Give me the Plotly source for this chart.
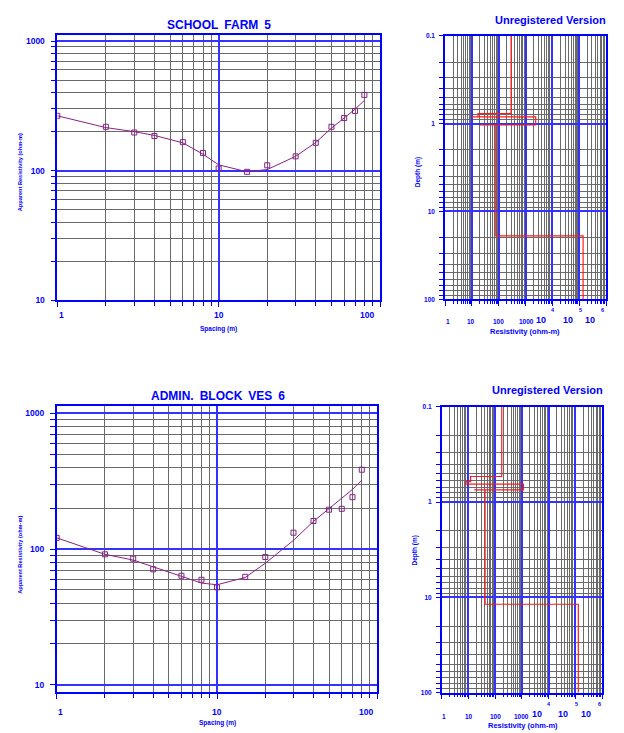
import math
import plotly.graph_objects as go

# ---------------- data ----------------
spacing = [1, 2, 3, 4, 6, 8, 10, 15, 20, 30, 40, 50, 60, 70, 80]
farm_obs = [265, 218, 197, 185, 166, 137, 104, 98, 110, 129, 164, 218, 255, 289, 384]
farm_calc = [265, 215, 200, 187, 164, 134, 111, 98, 102, 129, 165, 213, 255, 298, 348]
admin_obs = [121, 91.5, 85, 71, 63.6, 59.4, 52.2, 62.5, 87.4, 132, 161, 195, 198, 241, 384]
admin_calc = [121, 91.5, 83, 74.3, 62.8, 56.2, 54.6, 61.8, 78.6, 116, 160, 199, 240, 275, 322]

farm_layer_res = [290, 17, 10, 2400, 20, 78, 140000]
farm_layer_bottom = [0.77, 0.84, 0.84, 1.04, 1.04, 19]
admin_layer_res = [177, 12, 8, 1140, 16.6, 42, 130000]
admin_layer_bottom = [0.54, 0.61, 0.65, 0.745, 0.745, 11.8]

sounding_titles = ["SCHOOL FARM 5", "ADMIN. BLOCK VES 6"]
left_ytick_vals = [10, 100, 1000]
left_xtick_vals = [1, 10, 100]
right_ytick_vals = [0.1, 1, 10, 100]
right_xtick_labels = ["1", "10", "100", "1000"]

BLUE = "#0000ff"
MAJOR = "#3333ff"
GRID = "#6a6a6a"
PURPLE = "#8a1f8a"
RED = "#ff1a1a"
W, H = 624, 733
FONT = "Liberation Sans, Arial, sans-serif"


def px(x):
    return x / W


def py(y):
    return 1 - y / H


def minor_vals(lo_exp, hi_exp):
    return [m * 10 ** e for e in range(lo_exp, hi_exp) for m in range(2, 10)]


def step_path(res, bottoms, top, base):
    xs, ys = [res[0]], [top]
    for i, b in enumerate(bottoms):
        xs += [res[i], res[i + 1]]
        ys += [b, b]
    xs.append(res[-1])
    ys.append(base)
    return xs, ys


fig = go.Figure()

# ---------- left (sounding curve) panels ----------
left_domains = [
    ([px(57.3), px(380)], [py(300), py(31.7)], [1.0, math.log10(1107)]),
    ([px(56.7), px(377.3)], [py(696.7), py(406.7)], [math.log10(8.84), math.log10(1137)]),
]
obs_sets = [farm_obs, admin_obs]
calc_sets = [farm_calc, admin_calc]
for k in range(2):
    xa = "x" if k == 0 else "x3"
    ya = "y" if k == 0 else "y3"
    fig.add_trace(go.Scatter(x=spacing, y=calc_sets[k], mode="lines",
                             line=dict(color=PURPLE, width=1), xaxis=xa, yaxis=ya,
                             showlegend=False, hoverinfo="skip"))
    fig.add_trace(go.Scatter(x=spacing, y=obs_sets[k], mode="markers",
                             marker=dict(symbol="square-open", size=5, color=PURPLE,
                                         line=dict(width=1, color=PURPLE)),
                             xaxis=xa, yaxis=ya, showlegend=False))

# ---------- right (layered model) panels ----------
models = [(farm_layer_res, farm_layer_bottom), (admin_layer_res, admin_layer_bottom)]
for k in range(2):
    xs, ys = step_path(models[k][0], models[k][1], 0.1, 100)
    xa = "x2" if k == 0 else "x4"
    ya = "y2" if k == 0 else "y4"
    fig.add_trace(go.Scatter(x=xs, y=ys, mode="lines", line=dict(color=RED, width=1.2),
                             xaxis=xa, yaxis=ya, showlegend=False))


def axis_common():
    return dict(type="log", showline=True, linecolor=BLUE, linewidth=1.5, mirror=True,
                ticks="outside", tickcolor=BLUE, showgrid=True, gridcolor=MAJOR, gridwidth=1.5,
                zeroline=False)


tickfont_left = dict(family=FONT, size=8.5, color=BLUE, weight="bold")
tickfont_right = dict(family=FONT, size=6.5, color=BLUE, weight="bold")

layout = dict(width=W, height=H, margin=dict(l=0, r=0, t=0, b=0),
              paper_bgcolor="white", plot_bgcolor="white", showlegend=False)

# left x axes
for name, dom, anchor in [("xaxis", left_domains[0][0], "y"), ("xaxis3", left_domains[1][0], "y3")]:
    a = axis_common()
    a.update(domain=dom, anchor=anchor, range=[0, 2], tickvals=left_xtick_vals,
             showticklabels=False, ticklen=5,
             minor=dict(tickvals=minor_vals(0, 2), ticks="outside", ticklen=4, tickcolor=BLUE,
                        showgrid=True, gridcolor=GRID, gridwidth=1))
    layout[name] = a
# left y axes
for name, k, anchor in [("yaxis", 0, "x"), ("yaxis3", 1, "x3")]:
    a = axis_common()
    a.update(domain=left_domains[k][1], anchor=anchor, range=left_domains[k][2],
             tickvals=left_ytick_vals, ticktext=[str(v) for v in left_ytick_vals],
             tickfont=tickfont_left, ticklen=5, ticklabelstandoff=4,
             minor=dict(tickvals=minor_vals(1, 3), ticks="outside", ticklen=5, tickcolor=BLUE,
                        showgrid=True, gridcolor=GRID, gridwidth=1))
    layout[name] = a

right_domains = [
    ([px(445), px(606)], [py(299), py(32)]),
    ([px(441.7), px(602)], [py(697.3), py(407.7)]),
]
for name, k, anchor in [("xaxis2", 0, "y2"), ("xaxis4", 1, "y4")]:
    a = axis_common()
    a.update(domain=right_domains[k][0], anchor=anchor, range=[0, 6],
             tickvals=[10 ** e for e in range(0, 7)], showticklabels=False, ticklen=5,
             minor=dict(tickvals=minor_vals(0, 6), ticks="outside", ticklen=2.5, tickcolor=BLUE,
                        showgrid=True, gridcolor=GRID, gridwidth=1))
    layout[name] = a
for name, k, anchor in [("yaxis2", 0, "x2"), ("yaxis4", 1, "x4")]:
    a = axis_common()
    a.update(domain=right_domains[k][1], anchor=anchor, range=[2, -1],
             tickvals=right_ytick_vals, ticktext=["0.1", "1", "10", "100"],
             tickfont=tickfont_right, ticklen=4, ticklabelstandoff=3,
             minor=dict(tickvals=minor_vals(-1, 2), ticks="outside", ticklen=4, tickcolor=BLUE,
                        showgrid=True, gridcolor=GRID, gridwidth=1))
    layout[name] = a

fig.update_layout(**layout)

ann = []


def text(x, y, s, size, bold=True, angle=0, xanchor="center", yanchor="middle",
         xref="paper", yref="paper", xshift=0):
    ann.append(dict(x=x, y=y, text=s, showarrow=False, textangle=angle, xref=xref, yref=yref,
                    xanchor=xanchor, yanchor=yanchor, xshift=xshift,
                    font=dict(family=FONT, size=size, color=BLUE,
                              weight="bold" if bold else "normal")))


def wide(s):
    return s.replace(" ", "\u2002")


# titles
text(px(218.7), py(21.7), wide(sounding_titles[0]), 12)
text(px(218), py(396.7), wide(sounding_titles[1]), 12)
text(px(550.5), py(15.7), "Unregistered Version", 11)
text(px(547), py(390.7), "Unregistered Version", 11)

# left axis titles
for yy in (170, 557.3):
    text(px(20.3), py(yy), "Apparent Resistivity (ohm-m)", 5.6, bold=True, angle=-90)
text(px(219), py(329), "Spacing (m)", 6.5)
text(px(217.7), py(728.3), "Spacing (m)", 6.5)

# left x tick labels
for xr, yy, shifts in [("x", 315, [4, 0, -13]), ("x3", 716.7, [4, 0, -11])]:
    for v, sh in zip(left_xtick_vals, shifts):
        text(math.log10(v), py(yy), str(v), 8.5, xref=xr, xshift=sh)

# right axis titles
text(px(418.3), py(170), "Depth (m)", 6.5, angle=-90)
text(px(415), py(553.3), "Depth (m)", 6.5, angle=-90)
text(px(524.7), py(331.7), "Resistivity (ohm-m)", 7.5)
text(px(522.5), py(730), "Resistivity (ohm-m)", 7.5)

# right x tick labels
right_sets = [
    dict(small_x=[447.7, 471, 498, 526], small_y=321.7, base_x=[541, 568.3, 590], base_y=320,
         sup_x=[553.3, 580.3, 602.7], sup_y=310),
    dict(small_x=[444.3, 469, 495.3, 521], small_y=721.7, base_x=[536.7, 563.3, 586], base_y=719.3,
         sup_x=[549.3, 576, 599.3], sup_y=708.3),
]
for rs in right_sets:
    for xx, lab in zip(rs["small_x"], right_xtick_labels):
        text(px(xx), py(rs["small_y"]), lab, 6.5)
    for xx in rs["base_x"]:
        text(px(xx), py(rs["base_y"]), "10", 9)
    for xx, e in zip(rs["sup_x"], ["4", "5", "6"]):
        text(px(xx), py(rs["sup_y"]), e, 5.5)

fig.update_layout(annotations=ann)
fig.write_html("out.html")
